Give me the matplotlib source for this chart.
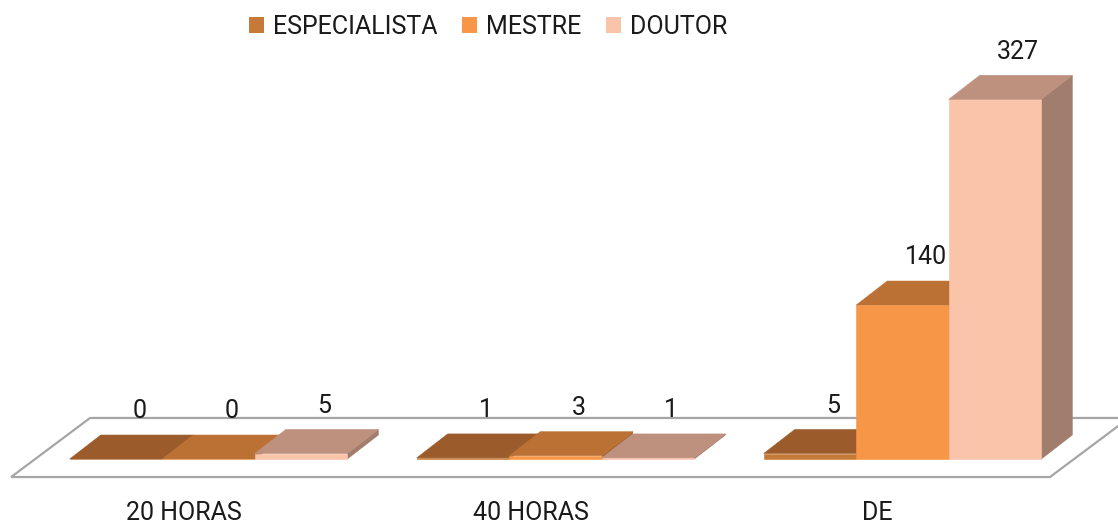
import matplotlib.pyplot as plt
from matplotlib.patches import Rectangle, Polygon, Patch

plt.rcParams['font.family'] = ['Roboto', 'DejaVu Sans']

categories = ['20 HORAS', '40 HORAS', 'DE']
series = ['ESPECIALISTA', 'MESTRE', 'DOUTOR']
values = {
    'ESPECIALISTA': [0, 1, 5],
    'MESTRE': [0, 3, 140],
    'DOUTOR': [5, 1, 327],
}

front_colors = ['#C67A38', '#F79646', '#FAC4AB']
top_colors = ['#9B5B2A', '#BC7134', '#BE907E']
side_colors = ['#87501F', '#A8632D', '#A17D6D']

fig = plt.figure(figsize=(11.18, 5.25), dpi=100)
ax = fig.add_axes([0, 0, 1, 1])
ax.set_xlim(-0.601, 2.621)
ax.set_ylim(-60, 417.3)
ax.axis('off')

w = 0.8 / 3
DX, DY = 0.0893, 21.8  # bar depth in data units

# floor
fx0, fx1, fy0, fy1, fdx = -0.569, 2.425, -16.4, 37.3, 0.2275
floor = Polygon([(fx0, fy0), (fx1, fy0), (fx1 + fdx, fy1), (fx0 + fdx, fy1)],
                closed=True, facecolor='white', edgecolor='#A6A6A6', lw=1.6, zorder=1)
ax.add_patch(floor)

z = 2
for i, cat in enumerate(categories):
    for j, s in enumerate(series):
        v = values[s][i]
        x0 = i + (j - 1) * w - w / 2
        front = Rectangle((x0, 0), w, v, facecolor=front_colors[j],
                          edgecolor=front_colors[j], lw=0.4, zorder=z)
        top = Polygon([(x0, v), (x0 + w, v), (x0 + w + DX, v + DY), (x0 + DX, v + DY)],
                      facecolor=top_colors[j], edgecolor=top_colors[j], lw=0.4, zorder=z)
        side = Polygon([(x0 + w, 0), (x0 + w + DX, DY), (x0 + w + DX, v + DY), (x0 + w, v)],
                       facecolor=side_colors[j], edgecolor=side_colors[j], lw=0.4, zorder=z)
        for p in (side, front, top):
            ax.add_patch(p)
        z += 1
        ax.annotate(str(v), (x0 + w / 2 + DX * 0.75, v + DY), xytext=(0, 17),
                    textcoords='offset points', ha='center', va='center',
                    fontsize=18, color='#1a1a1a', zorder=50)
    ax.text(i - 0.072, -49, cat, ha='center', va='center', fontsize=18, color='#1a1a1a')

handles = [Patch(facecolor=c, edgecolor='none') for c in front_colors]
fig.legend(handles, series, loc='center', bbox_to_anchor=(488 / 1118, 1 - 27 / 525),
           ncol=3, frameon=False, fontsize=18, handlelength=0.6, handleheight=0.6,
           handletextpad=0.35, columnspacing=1.0, labelcolor='#1a1a1a')

fig.savefig('out.png', dpi=100)
